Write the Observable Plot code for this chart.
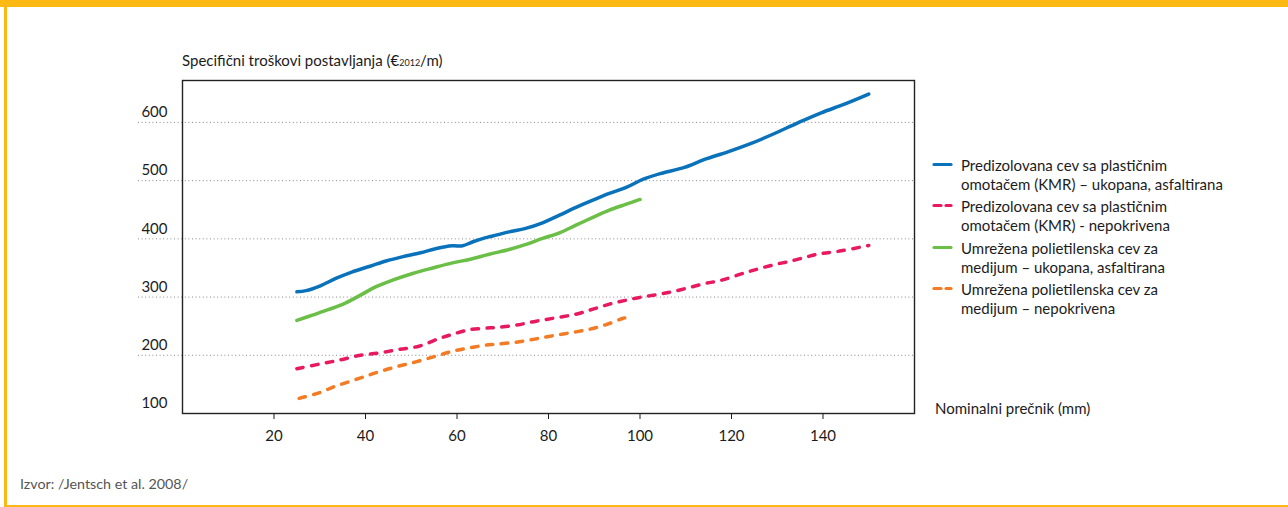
<!DOCTYPE html>
<html><head><meta charset="utf-8">
<script src="https://cdn.jsdelivr.net/npm/d3@7"></script>
<script src="https://cdn.jsdelivr.net/npm/@observablehq/plot@0.6"></script>
<style>
html,body{margin:0;padding:0;background:#fff;}
#wrap{position:relative;width:1288px;height:507px;overflow:hidden;font-family:Lato,"DejaVu Sans Condensed",sans-serif;font-size:15px;color:#1c1c1c;}
#chart{position:absolute;left:0;top:0;}
.band{position:absolute;background:#fdb913;}
.txt{position:absolute;white-space:nowrap;line-height:19px;}
.sub{font-size:9px;}
.leg{position:absolute;left:931px;}
.leg svg{position:absolute;left:0;top:0;}
.leg div{position:absolute;left:30px;top:0;line-height:19px;white-space:nowrap;}
</style></head><body>
<div id="wrap">
  <div class="band" style="left:0;top:0;width:1288px;height:7px"></div>
  <div class="band" style="left:4px;top:0;width:2.5px;height:507px"></div>
  <div class="band" style="left:4px;top:505px;width:1284px;height:2px"></div>
  <div id="chart"></div>
  <div class="txt" style="left:182px;top:51px">Specifični troškovi postavljanja (€<span class="sub">2012</span>/m)</div>
  <div id="legend"></div>
  <div class="txt" style="left:935px;top:399px">Nominalni prečnik (mm)</div>
  <div class="txt" style="left:20px;top:473.5px;color:#555;font-size:14.3px">Izvor: /Jentsch et al. 2008/</div>
</div>
<script>
const seriesNames = [
  "Predizolovana cev sa plastičnim<br>omotačem (KMR) – ukopana, asfaltirana",
  "Predizolovana cev sa plastičnim<br>omotačem (KMR) - nepokrivena",
  "Umrežena polietilenska cev za<br>medijum – ukopana, asfaltirana",
  "Umrežena polietilenska cev za<br>medijum – nepokrivena"
];
const seriesColors = ["#0a72ba", "#e8195e", "#6bbf47", "#f47a24"];
const seriesDashed = [false, true, false, true];

const kmrBuriedDn = [25,27,30,33.5,37,41,44.5,48,52,55.5,59,61.2,63.5,66.3,67.8,71.4,75,78.7,82.4,86,89.7,93.3,97,100.6,104.4,109.7,114.1,119.2,124.3,129.4,134.5,139.6,144.7,150];
const kmrBuriedCost = [309,311,319,332,343,353,362,369,376,383.5,388,388,395,402,405,412,418,427.5,440.7,454,466.5,478,488.3,502,512,522.7,536.4,549.5,564,581,599.3,616.5,631.4,648.6];
const kmrOpenDn = [25,29.8,34.2,38.6,43,47.3,51.7,56.1,59,62.7,66.3,68.5,72.9,77.3,81.6,86,89.7,93.3,97,100.6,104.2,107.9,114.1,117.8,122.9,128,133.8,138.9,144,150];
const kmrOpenCost = [177,184.7,191.6,199.6,204,210,215.6,228.8,236,244,246.6,247.8,251.7,258.6,264.3,270.6,279.2,287.8,294.7,300.3,305,310.7,323,329,341.6,353,363.4,373.7,379.4,388.7];
const pexBuriedDn = [25,28.4,32,35.7,39.3,42.2,45.9,50.3,54.7,59,62.7,66.3,67.8,71.4,75.1,78.7,82.4,86,89.7,93.3,97,100];
const pexBuriedCost = [260,269,278.7,290,305,317.5,329,340.5,350,358.8,364.6,372,375,381.8,390.4,400.7,410.3,423.5,436.8,449.3,459.6,467.7];
const pexOpenDn = [25.5,29.8,33.5,37.9,42.2,46.6,51,55.4,59,62.7,66.3,68.5,72.9,77.3,81.6,86,89.7,93.3,96.2,98.3];
const pexOpenCost = [126,135.4,147,158.4,169.8,180,188.7,198.5,207,212.7,217.4,219,222.5,228.2,234.5,240.2,246,254.6,263.2,267];

const xTicks = [20,40,60,80,100,120,140];
const yTicks = [100,200,300,400,500,600];
const yGrid = [200,300,400,500,600];

const toRows = (dn, cost) => dn.map((d, i) => ({dn: d, cost: cost[i]}));
const series = [
  toRows(kmrBuriedDn, kmrBuriedCost),
  toRows(kmrOpenDn, kmrOpenCost),
  toRows(pexBuriedDn, pexBuriedCost),
  toRows(pexOpenDn, pexOpenCost)
];
const order = [3,1,2,0];

const chart = Plot.plot({
  width: 1288, height: 507,
  marginLeft: 182, marginRight: 374, marginTop: 80, marginBottom: 94,
  style: {fontFamily: 'Lato,"DejaVu Sans Condensed",sans-serif', fontSize: "15px", color: "#1c1c1c", background: "transparent"},
  x: {domain: [0,160], label: null},
  y: {domain: [100,672], label: null},
  marks: [
    Plot.ruleY(yGrid, {stroke: "#8a8a8a", strokeWidth: 1, strokeDasharray: "1,2.6", insetLeft: -44}),
    Plot.frame({stroke: "#222", strokeWidth: 1.4}),
    ...order.map(i => Plot.line(series[i], {
      x: "dn", y: "cost", stroke: seriesColors[i], strokeWidth: 3.5,
      strokeLinecap: "round", strokeLinejoin: "round",
      strokeDasharray: seriesDashed[i] ? "6.5,8.5" : null,
      curve: "catmull-rom"
    })),
    Plot.axisX({ticks: xTicks, tickSize: 6, tickPadding: 11, fontSize: 15, label: null}),
    Plot.axisY({ticks: yTicks, tickSize: 0, tickPadding: 15, dy: -10, fontSize: 15, label: null})
  ]
});
document.getElementById("chart").appendChild(chart);

const legTops = [155.5, 197, 238.5, 280];
const leg = document.getElementById("legend");
seriesNames.forEach((name, i) => {
  const el = document.createElement("div");
  el.className = "leg";
  el.style.top = legTops[i] + "px";
  const y = 8.5;
  const sw = seriesDashed[i]
    ? `<line x1="3" y1="${y}" x2="10" y2="${y}"/><line x1="15" y1="${y}" x2="20" y2="${y}"/>`
    : `<line x1="3" y1="${y}" x2="20" y2="${y}"/>`;
  el.innerHTML = `<svg width="24" height="18"><g stroke="${seriesColors[i]}" stroke-width="3.2" stroke-linecap="round">${sw}</g></svg><div>${name}</div>`;
  leg.appendChild(el);
});
</script>
</body></html>
